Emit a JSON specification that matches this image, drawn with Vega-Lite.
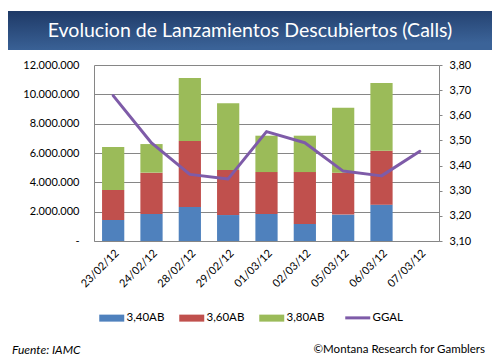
{
  "$schema": "https://vega.github.io/schema/vega-lite/v6.json",
  "background": "white",
  "padding": {"left": 8, "top": 11, "right": 0, "bottom": 0},
  "spacing": 9,
  "config": {
    "view": {"stroke": null},
    "locale": {"number": {"decimal": ",", "thousands": ".", "grouping": [3], "currency": ["$", ""]}},
    "font": "Lato"
  },
  "datasets": {
    "bars": [
      {"fecha": "23/02/12", "serie": "3,40AB", "valor": 1430000},
      {"fecha": "23/02/12", "serie": "3,60AB", "valor": 2050000},
      {"fecha": "23/02/12", "serie": "3,80AB", "valor": 2930000},
      {"fecha": "24/02/12", "serie": "3,40AB", "valor": 1840000},
      {"fecha": "24/02/12", "serie": "3,60AB", "valor": 2820000},
      {"fecha": "24/02/12", "serie": "3,80AB", "valor": 1950000},
      {"fecha": "28/02/12", "serie": "3,40AB", "valor": 2320000},
      {"fecha": "28/02/12", "serie": "3,60AB", "valor": 4500000},
      {"fecha": "28/02/12", "serie": "3,80AB", "valor": 4290000},
      {"fecha": "29/02/12", "serie": "3,40AB", "valor": 1770000},
      {"fecha": "29/02/12", "serie": "3,60AB", "valor": 3070000},
      {"fecha": "29/02/12", "serie": "3,80AB", "valor": 4550000},
      {"fecha": "01/03/12", "serie": "3,40AB", "valor": 1840000},
      {"fecha": "01/03/12", "serie": "3,60AB", "valor": 2860000},
      {"fecha": "01/03/12", "serie": "3,80AB", "valor": 2480000},
      {"fecha": "02/03/12", "serie": "3,40AB", "valor": 1160000},
      {"fecha": "02/03/12", "serie": "3,60AB", "valor": 3540000},
      {"fecha": "02/03/12", "serie": "3,80AB", "valor": 2480000},
      {"fecha": "05/03/12", "serie": "3,40AB", "valor": 1800000},
      {"fecha": "05/03/12", "serie": "3,60AB", "valor": 2860000},
      {"fecha": "05/03/12", "serie": "3,80AB", "valor": 4430000},
      {"fecha": "06/03/12", "serie": "3,40AB", "valor": 2480000},
      {"fecha": "06/03/12", "serie": "3,60AB", "valor": 3680000},
      {"fecha": "06/03/12", "serie": "3,80AB", "valor": 4610000}
    ],
    "ggal": [
      {"fecha": "23/02/12", "precio": 3.678},
      {"fecha": "24/02/12", "precio": 3.49},
      {"fecha": "28/02/12", "precio": 3.365},
      {"fecha": "29/02/12", "precio": 3.347},
      {"fecha": "01/03/12", "precio": 3.535},
      {"fecha": "02/03/12", "precio": 3.491},
      {"fecha": "05/03/12", "precio": 3.378},
      {"fecha": "06/03/12", "precio": 3.359},
      {"fecha": "07/03/12", "precio": 3.457}
    ]
  },
  "vconcat": [
    {
      "width": 484,
      "height": 39,
      "data": {"values": [{"titulo": "Evolucion de Lanzamientos Descubiertos (Calls)"}]},
      "layer": [
        {
          "mark": {
            "type": "rect",
            "color": {
              "gradient": "linear", "x1": 0, "y1": 0, "x2": 0.25, "y2": 1,
              "stops": [{"offset": 0, "color": "#1e3966"}, {"offset": 1, "color": "#3b6398"}]
            }
          },
          "encoding": {}
        },
        {
          "mark": {"type": "text", "color": "white", "font": "Lato", "fontSize": 19.5, "align": "center", "baseline": "middle"},
          "encoding": {"text": {"field": "titulo", "type": "nominal"}}
        }
      ]
    },
    {
      "spacing": 0,
      "hconcat": [
        {
          "width": 14,
          "height": 176,
          "data": {"values": [{}]},
          "mark": {"type": "rect", "opacity": 0},
          "encoding": {}
        },
        {
          "width": 345,
          "height": 176,
          "layer": [
            {
              "data": {"name": "bars"},
              "mark": {"type": "bar"},
              "encoding": {
                "x": {
                  "field": "fecha", "type": "nominal",
                  "scale": {"domain": ["23/02/12", "24/02/12", "28/02/12", "29/02/12", "01/03/12", "02/03/12", "05/03/12", "06/03/12", "07/03/12"], "paddingInner": 0.42, "paddingOuter": 0.21},
                  "axis": {"title": null, "labelAngle": -45, "ticks": false, "domainColor": "#868686", "labelPadding": 6, "labelFont": "Lato", "labelFontSize": 11, "labelColor": "#000"}
                },
                "y": {
                  "field": "valor", "type": "quantitative", "stack": "zero",
                  "scale": {"domain": [0, 12000000], "nice": false},
                  "axis": {"title": null, "values": [0, 2000000, 4000000, 6000000, 8000000, 10000000, 12000000], "format": ",.0f", "labelExpr": "datum.value === 0 ? '-' : datum.label", "grid": true, "gridColor": "#868686", "domain": true, "domainColor": "#868686", "ticks": false, "labelPadding": 15, "labelFont": "Lato", "labelFontSize": 11, "labelColor": "#000"}
                },
                "order": {"field": "serie", "type": "nominal", "sort": "ascending"},
                "color": {
                  "field": "serie", "type": "nominal",
                  "scale": {"domain": ["3,40AB", "3,60AB", "3,80AB", "GGAL"], "range": ["#4F81BD", "#C0504D", "#9BBB59", "#7E5BA8"]},
                  "legend": {
                    "orient": "none", "legendX": 98, "legendY": 301, "direction": "horizontal", "title": null,
                    "labelFont": "Lato", "labelFontSize": 11.5, "labelColor": "#000", "labelOffset": 9, "columnPadding": 14,
                    "symbolSize": 625,
                    "encode": {
                      "symbols": {
                        "update": {
                          "shape": {"signal": "datum.value === 'GGAL' ? 'stroke' : 'M-1,-0.28H1V0.28H-1Z'"},
                          "fill": {"signal": "datum.value === '3,40AB' ? '#4F81BD' : datum.value === '3,60AB' ? '#C0504D' : datum.value === '3,80AB' ? '#9BBB59' : 'transparent'"},
                          "stroke": {"signal": "datum.value === 'GGAL' ? '#7E5BA8' : 'transparent'"},
                          "strokeWidth": {"signal": "datum.value === 'GGAL' ? 3 : 0"},
                          "opacity": {"value": 1}
                        }
                      }
                    }
                  }
                }
              }
            },
            {
              "data": {"name": "ggal"},
              "mark": {"type": "line", "strokeWidth": 3, "strokeCap": "round", "strokeJoin": "round"},
              "encoding": {
                "x": {"field": "fecha", "type": "nominal"},
                "y": {
                  "field": "precio", "type": "quantitative",
                  "scale": {"domain": [3.1, 3.8], "nice": false, "zero": false},
                  "axis": {"orient": "right", "title": null, "values": [3.1, 3.2, 3.3, 3.4, 3.5, 3.6, 3.7, 3.8], "format": ".2f", "grid": false, "domain": true, "domainColor": "#868686", "ticks": true, "tickSize": 3, "tickColor": "#868686", "labelPadding": 7, "labelFont": "Lato", "labelFontSize": 11, "labelColor": "#000"}
                },
                "color": {"datum": "GGAL", "type": "nominal"}
              }
            }
          ],
          "resolve": {"scale": {"y": "independent"}}
        }
      ]
    },
    {
      "width": 484,
      "height": 58,
      "data": {"values": [{"fuente": "Fuente:  IAMC", "firma": "©Montana Research for Gamblers"}]},
      "layer": [
        {
          "mark": {"type": "text", "align": "left", "baseline": "middle", "fontStyle": "italic", "font": "Lato", "fontSize": 12, "color": "#000"},
          "encoding": {"text": {"field": "fuente", "type": "nominal"}, "x": {"value": 4}, "y": {"value": 52}}
        },
        {
          "mark": {"type": "text", "align": "right", "baseline": "middle", "font": "Lato", "fontSize": 11.5, "color": "#000"},
          "encoding": {"text": {"field": "firma", "type": "nominal"}, "x": {"value": 477}, "y": {"value": 52}}
        }
      ]
    }
  ]
}
